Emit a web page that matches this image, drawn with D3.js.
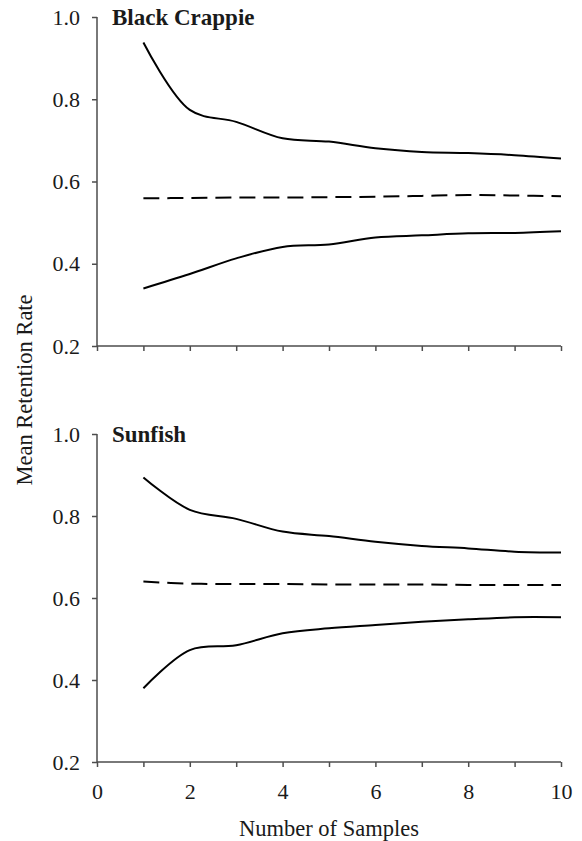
<!DOCTYPE html>
<html>
<head>
<meta charset="utf-8">
<script src="https://cdn.jsdelivr.net/npm/d3@7"></script>
</head>
<body style="margin:0">
<script>
// number of samples
var samples = [1, 2, 3, 4, 5, 6, 7, 8, 9, 10];

// Black Crappie
var crappieUpper = [0.938, 0.774, 0.745, 0.705, 0.697, 0.681, 0.672, 0.669, 0.664, 0.656];
var crappieMean  = [0.559, 0.560, 0.561, 0.561, 0.562, 0.563, 0.565, 0.567, 0.566, 0.564];
var crappieLower = [0.340, 0.375, 0.413, 0.441, 0.447, 0.464, 0.469, 0.474, 0.475, 0.479];

// Sunfish
var sunUpper = [0.894, 0.815, 0.793, 0.762, 0.751, 0.737, 0.727, 0.721, 0.713, 0.711];
var sunMean  = [0.640, 0.635, 0.634, 0.634, 0.633, 0.633, 0.633, 0.632, 0.632, 0.632];
var sunLower = [0.380, 0.473, 0.485, 0.514, 0.526, 0.534, 0.542, 0.548, 0.553, 0.553];

var xTicks = [0, 1, 2, 3, 4, 5, 6, 7, 8, 9, 10];
var yTicks = [0.2, 0.4, 0.6, 0.8, 1.0];

var axisColor = "#4d4d4d";
var textColor = "#1a1a1a";

var svg = d3.select("body").append("svg")
  .attr("width", 582)
  .attr("height", 841);

var x = d3.scaleLinear().domain([0, 10]).range([97, 561]);

function serifText(sel, size) {
  sel.attr("font-family", "Liberation Serif")
    .style("font-family", "'Liberation Serif', 'Times New Roman', serif")
    .style("font-size", size + "px")
    .style("fill", textColor);
}

function styleAxis(g) {
  g.attr("font-family", null).attr("font-size", null);
  g.select(".domain").remove();
  g.selectAll("line").style("stroke", axisColor).style("stroke-width", 1.5);
  g.selectAll("text").call(serifText, 22);
}

function drawPanel(params) {
  var top = params[0];
  var bottom = params[1];
  var title = params[2];
  var series = params[3];
  var showLabels = params[4];

  var y = d3.scaleLinear().domain([0.2, 1.0]).range([bottom, top]);

  // y axis
  svg.append("g")
    .attr("transform", "translate(" + x(0) + ",0)")
    .call(d3.axisLeft(y).tickValues(yTicks).tickSize(5).tickSizeOuter(0).tickPadding(12)
      .tickFormat(d3.format(".1f")))
    .call(styleAxis);

  // x axis, labels only on the bottom panel
  svg.append("g")
    .attr("transform", "translate(0," + bottom + ")")
    .call(d3.axisBottom(x).tickValues(xTicks).tickSize(5).tickSizeOuter(0).tickPadding(16)
      .tickFormat(function(d) { return (showLabels && d % 2 == 0) ? d : ""; }))
    .call(styleAxis);

  // axis lines meeting at the corner
  svg.append("path")
    .attr("d", "M" + x(0) + "," + y(1.0) + "V" + y(0.2) + "H" + x(10))
    .style("fill", "none")
    .style("stroke", axisColor)
    .style("stroke-width", 1.5);

  var line = d3.line()
    .x(function(d, i) { return x(samples[i]); })
    .y(function(d) { return y(d); })
    .curve(d3.curveCatmullRom);

  series.forEach(function(s) {
    svg.append("path")
      .datum(s.values)
      .attr("d", line)
      .style("fill", "none")
      .style("stroke", "#000")
      .style("stroke-width", 2)
      .style("stroke-dasharray", s.dashed ? "16,8" : null);
  });

  svg.append("text")
    .attr("x", 112)
    .attr("y", top + 8)
    .call(serifText, 23)
    .style("font-weight", "bold")
    .text(title);
}

drawPanel([17, 346, "Black Crappie", [
  { values: crappieUpper, dashed: false },
  { values: crappieMean, dashed: true },
  { values: crappieLower, dashed: false }
], false]);

drawPanel([434, 762, "Sunfish", [
  { values: sunUpper, dashed: false },
  { values: sunMean, dashed: true },
  { values: sunLower, dashed: false }
], true]);

// axis titles
svg.append("text")
  .attr("x", (x(0) + x(10)) / 2)
  .attr("y", 836)
  .attr("text-anchor", "middle")
  .call(serifText, 22.5)
  .text("Number of Samples");

svg.append("text")
  .attr("transform", "translate(32,390) rotate(-90)")
  .attr("text-anchor", "middle")
  .call(serifText, 22.5)
  .text("Mean Retention Rate");
</script>
</body>
</html>
